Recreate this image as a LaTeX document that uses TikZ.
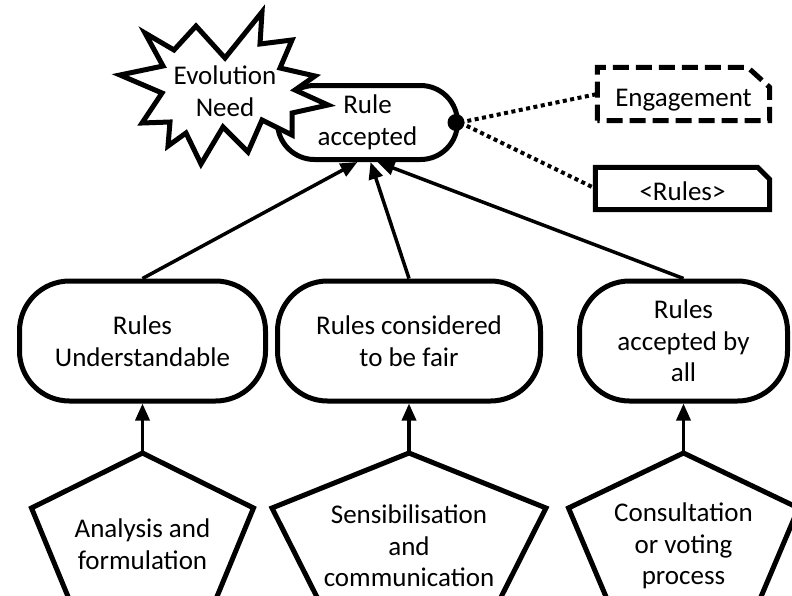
\documentclass[tikz,border=0pt]{standalone}
\usepackage{fontspec}
\setmainfont{Carlito}
\usetikzlibrary{positioning,arrows.meta}

\tikzstyle{goal} = [draw, line width=5pt, rectangle, rounded corners=50pt,
    align=center, inner sep=0pt]
\tikzstyle{task} = [align=center, inner sep=0pt]
\tikzstyle{tasksh} = [line width=5pt, line join=miter]
\tikzstyle{docbox} = [inner sep=0pt, text height=24pt, text depth=0pt]
\tikzstyle{docline} = [line width=5pt, line join=miter]
\tikzstyle{link} = [line width=3.5pt, -{Triangle[length=17pt,width=14pt]}]
\tikzstyle{dotlink} = [line width=4pt, dash pattern=on 4pt off 3.5pt]

\begin{document}
\begin{tikzpicture}[x=1pt, y=-1pt, font=\fontsize{27}{31.5}\selectfont]
\useasboundingbox (0,0) rectangle (792,595);
\clip (0,0) rectangle (792,595);

\node [goal, rounded corners=37pt, minimum width=180pt, minimum height=74pt]
    (accepted) at (367.5,122.5) {Rule\\accepted};

% evolution need
\draw [tasksh, fill=white] (120,75) -- (163,66) -- (145,33) -- (174,50)
    -- (196,26) -- (225,58) -- (262,12) -- (260,44) -- (292,40) -- (280,68)
    -- (315,76) -- (295,90) -- (328,105) -- (292,113) -- (292,135)
    -- (262,120) -- (248,152) -- (223,127) -- (201,164) -- (186,133)
    -- (168,146) -- (170,122) -- (142,123) -- (162,93) -- cycle;
\node [task] (need) at (225,91) {Evolution\\Need};

% documents
\node [docbox, minimum width=172pt, minimum height=53pt] (engage) at (683.5,94) {Engagement};
\draw [docline, dash pattern=on 16pt off 7pt] (engage.south west)
    |- ([xshift=-22pt]engage.north east) -- ([yshift=-20pt]engage.north east)
    -- (engage.south east) -- cycle;

\node [docbox, minimum width=174pt, minimum height=42pt] (rulesdoc) at (682.5,188.5) {<Rules>};
\draw [docline] (rulesdoc.south west)
    |- ([xshift=-12pt]rulesdoc.north east) -- ([yshift=-12pt]rulesdoc.north east)
    -- (rulesdoc.south east) -- cycle;

\draw [dotlink] (accepted.east) -- (engage.west);
\draw [dotlink] (accepted.east) -- (rulesdoc.west);
\fill ([xshift=-4pt]accepted.east) circle (8.5pt);

% sub goals
\node [goal, minimum width=246pt, minimum height=120pt] (under) at (142.5,341) {Rules\\Understandable};
\node [goal, minimum width=263pt, minimum height=120pt, right=7pt of under] (fair) {Rules considered\\to be fair};
\node [goal, minimum width=208pt, minimum height=120pt, right=34pt of fair] (all) {Rules\\accepted by\\all};

\draw [link] (under.north) -- ([xshift=-10pt]accepted.south);
\draw [link] (fair.north) -- ([xshift=3pt]accepted.south);
\draw [link] (all.north) -- ([xshift=10pt]accepted.south);

% tasks
\coordinate (analtop) at (142.5,453);
\draw [tasksh] (analtop) -- ++(111,55) -- ++(-40,97) -- ++(-142,0) -- ++(-40,-97) -- cycle;
\node [task] (anal) at (142.5,544) {Analysis and\\formulation};
\draw [link] (analtop) -- (under);

\coordinate (senstop) at (409,453);
\draw [tasksh] (senstop) -- ++(137,55) -- ++(-49,97) -- ++(-176,0) -- ++(-49,-97) -- cycle;
\node [task] (sens) at (409,546) {Sensibilisation\\and\\communication};
\draw [link] (senstop) -- (fair);

\coordinate (constop) at (683.5,453);
\draw [tasksh] (constop) -- ++(115,55) -- ++(-41,97) -- ++(-148,0) -- ++(-41,-97) -- cycle;
\node [task] (cons) at (683.5,546) {Consultation\\or voting\\process};
\draw [link] (constop) -- (all);

\end{tikzpicture}
\end{document}
